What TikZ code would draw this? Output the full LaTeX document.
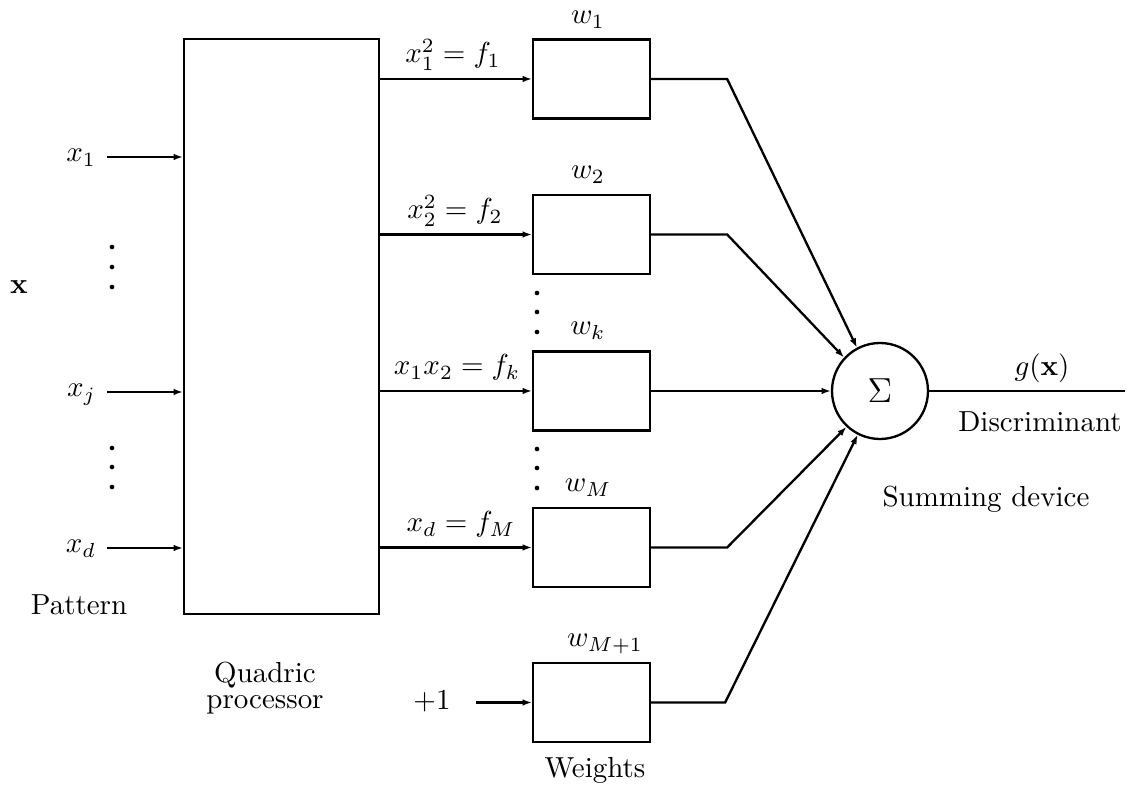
\documentclass[tikz,border=0pt]{standalone}
\usetikzlibrary{arrows.meta}
\newcommand{\px}{0.345pt}
\begin{document}
\begin{tikzpicture}[x=\px, y=-\px, line width=0.8pt,
  box/.style={draw, rectangle, inner sep=0pt, minimum width=117*\px, minimum height=79*\px},
  sumnode/.style={draw, circle, inner sep=0pt, minimum size=96*\px},
  feed/.style={-{Latex[length=3.2pt,width=2.3pt]}},
  lbl/.style={inner sep=0pt, anchor=base},
  dot/.style={fill=black}]
\useasboundingbox (0,0) rectangle (1133,790);

% quadric processor
\node[draw, rectangle, inner sep=0pt, minimum width=195*\px, minimum height=575*\px] (quad) at (281.5,326.5) {};
\node[align=center, inner sep=0pt] (quadlbl) at (265,688) {Quadric\\[-3pt]processor};

% pattern inputs
\node (xvec) at (19,287) {$\mathbf{x}$};
\coordinate (in1) at (107,157);
\coordinate (inj) at (107,392);
\coordinate (ind) at (107,548);
\node[inner sep=0pt, anchor=base east] (lx1) at (97,162) {$x_1$};
\node[inner sep=0pt, anchor=base east] (lxj) at (97,397) {$x_j$};
\node[inner sep=0pt, anchor=base east] (lxd) at (97,553) {$x_d$};
\draw[feed] (in1) -- (in1 -| quad.west);
\draw[feed] (inj) -- (inj -| quad.west);
\draw[feed] (ind) -- (ind -| quad.west);
\foreach \y in {247,267,287,448,467,487} \fill[dot] (112,\y) circle[radius=0.8pt];
\node[inner sep=0pt] (pattern) at (79,605) {Pattern};

% weights
\node[box] (w1) at (591.5,79) {};
\node[box] (w2) at (591.5,234.5) {};
\node[box] (wk) at (591.5,391) {};
\node[box] (wM) at (591.5,547.5) {};
\node[box] (wM1) at (591.5,702.5) {};
\node[lbl] (lw1) at (588,24) {$w_1$};
\node[lbl] (lw2) at (588,179) {$w_2$};
\node[lbl] (lwk) at (588,335) {$w_k$};
\node[lbl] (lwM) at (588,492) {$w_M$};
\node[lbl] (lwM1) at (605,647) {$w_{M+1}$};
\node[lbl] (weights) at (595,778) {Weights};
\foreach \y in {293,312,332,449,468,488} \fill[dot] (537,\y) circle[radius=0.8pt];

% products fed to the weights
\draw[feed] (quad.east |- w1.west) -- (w1.west);
\draw[feed] (quad.east |- w2.west) -- (w2.west);
\draw[feed] (quad.east |- wk.west) -- (wk.west);
\draw[feed] (quad.east |- wM.west) -- (wM.west);
\node[lbl] (f1) at (453,63) {$x_1^2 = f_1$};
\node[lbl] (f2) at (455,219) {$x_2^2 = f_2$};
\node[lbl] (fk) at (457,375) {$x_1x_2 = f_k$};
\node[lbl] (fM) at (461,532) {$x_d = f_M$};

% bias input
\node[lbl] (one) at (432,710) {$+1$};
\coordinate (bias) at (476,702.5);
\draw[feed] (bias) -- (wM1.west);

% summing device
\node[sumnode] (sum) at (880,391) {\large$\Sigma$};
\draw[feed] (w1.east) -- ++(76,0) -- (sum.118);
\draw[feed] (w2.east) -- ++(76,0) -- (sum.137);
\draw[feed] (wk.east) -- (sum.west);
\draw[feed] (wM.east) -- ++(76,0) -- (sum.227);
\draw[feed] (wM1.east) -- ++(74,0) -- (sum.243);
\node[lbl] (summing) at (986,507) {Summing device};

% discriminant output
\coordinate (gout) at (1125,391);
\draw (sum.east) -- (gout);
\node[lbl] (gx) at (1042,376) {$g(\mathbf{x})$};
\node[lbl] (disc) at (1040,432) {Discriminant};
\end{tikzpicture}
\end{document}
